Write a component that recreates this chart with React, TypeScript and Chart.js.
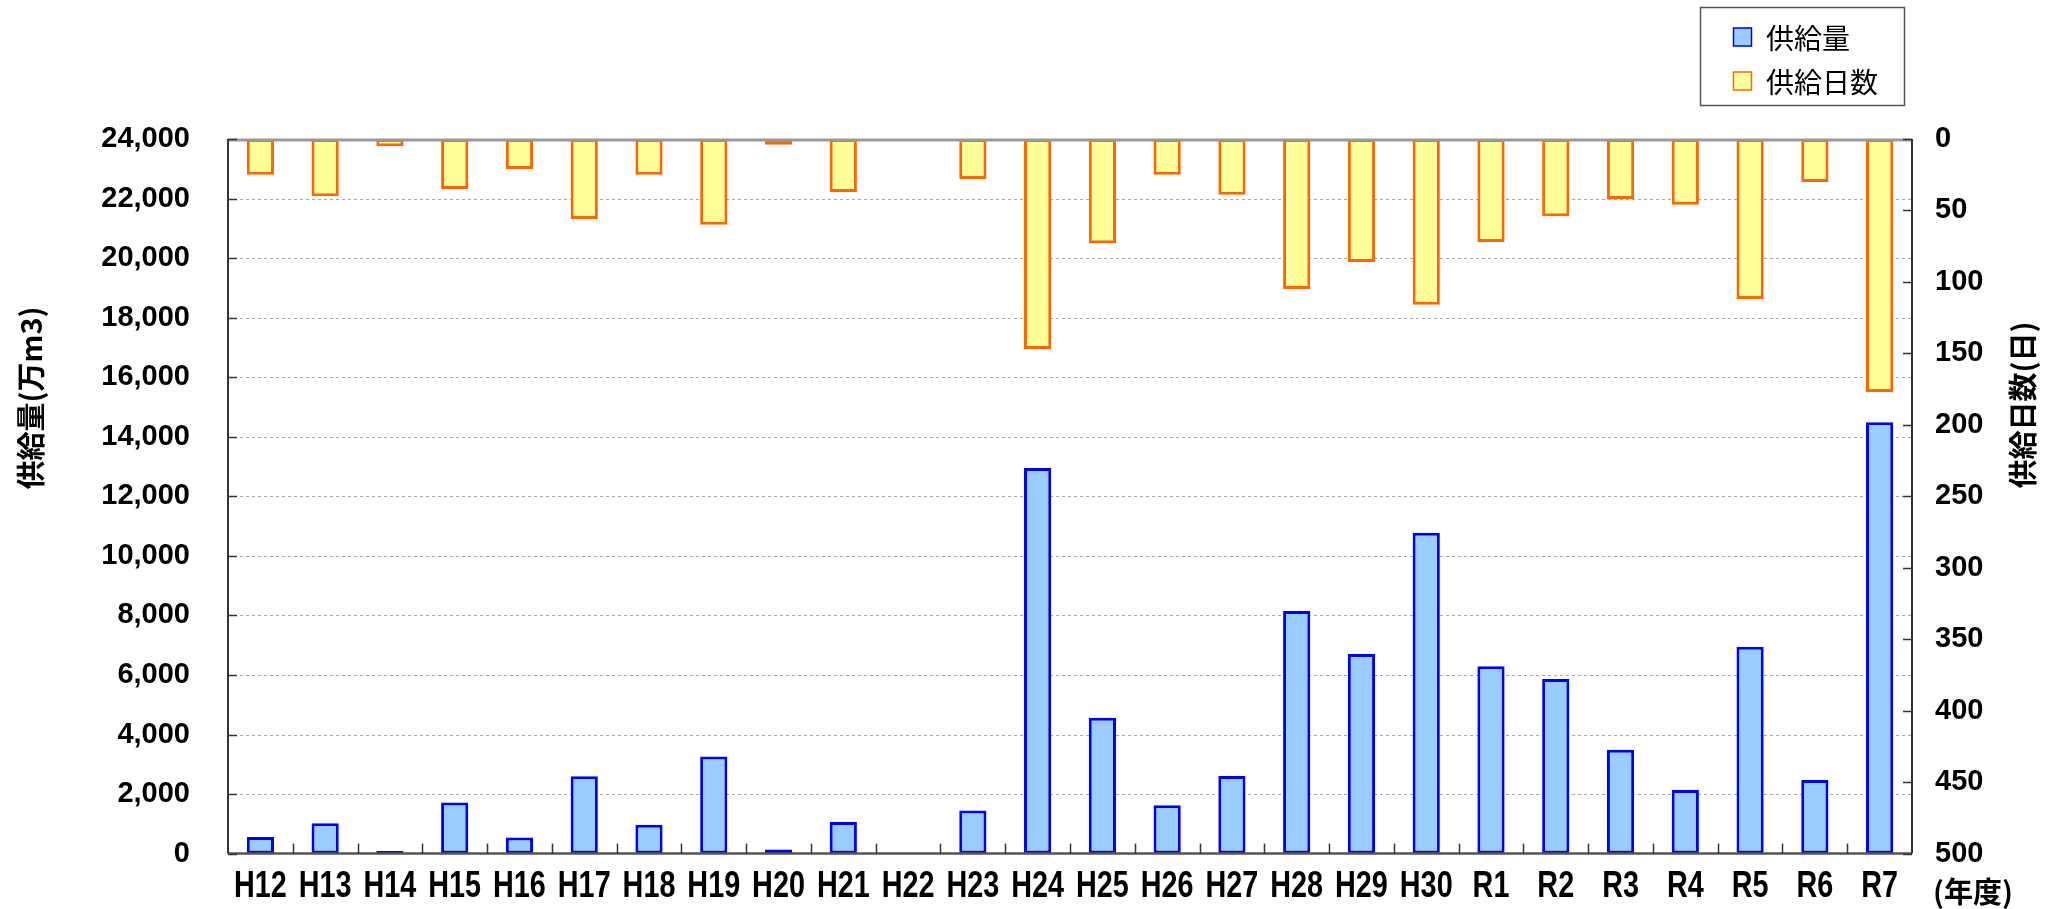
import React, { useEffect, useRef } from 'react';
import { Chart, registerables } from 'chart.js';

Chart.register(...registerables);

const categories = ['H12', 'H13', 'H14', 'H15', 'H16', 'H17', 'H18', 'H19', 'H20', 'H21', 'H22', 'H23', 'H24', 'H25', 'H26', 'H27', 'H28', 'H29', 'H30', 'R1', 'R2', 'R3', 'R4', 'R5', 'R6', 'R7'];
const supplyVolume = [560, 1020, 90, 1720, 540, 2600, 970, 3260, 140, 1060, 0, 1450, 12950, 4560, 1620, 2610, 8150, 6700, 10780, 6290, 5860, 3490, 2140, 6950, 2470, 14490];
const supplyDays = [25, 40, 5, 35, 21, 56, 25, 60, 4, 37, 0, 28, 147, 73, 25, 39, 105, 86, 116, 72, 54, 42, 46, 112, 30, 177];

const seriesLabels = ['供給量', '供給日数'];
const leftTitle = '供給量(万m3)';
const rightTitle = '供給日数(日)';
const xUnit = '(年度)';

const LEFT_MAX = 24000;
const LEFT_STEP = 2000;
const RIGHT_MAX = 500;
const RIGHT_STEP = 50;

const SANS = "'Liberation Sans', Arial, sans-serif";
const CJK = "'Noto Sans CJK JP', 'Noto Sans CJK SC', sans-serif";

const decor = {
  id: 'decor',
  beforeDatasetsDraw(chart: any) {
    const { ctx, chartArea: a, scales } = chart;
    const y = scales.y;
    ctx.save();
    ctx.strokeStyle = '#a8a8a8';
    ctx.lineWidth = 1;
    ctx.setLineDash([3, 3]);
    y.ticks.forEach((t: any) => {
      if (t.value === 0 || t.value === LEFT_MAX) return;
      const py = Math.round(y.getPixelForValue(t.value)) + 0.5;
      ctx.beginPath();
      ctx.moveTo(a.left, py);
      ctx.lineTo(a.right, py);
      ctx.stroke();
    });
    ctx.restore();
  },
  afterDatasetsDraw(chart: any) {
    const { ctx, chartArea: a, scales } = chart;
    const y = scales.y;
    const y2 = scales.y2;
    const x = scales.x;
    ctx.save();
    ctx.setLineDash([]);
    ctx.strokeStyle = '#999999';
    ctx.lineWidth = 3;
    ctx.beginPath();
    ctx.moveTo(a.left, a.top + 1);
    ctx.lineTo(a.right, a.top + 1);
    ctx.stroke();
    ctx.strokeStyle = '#555555';
    ctx.lineWidth = 2.5;
    ctx.beginPath();
    ctx.moveTo(a.left, a.bottom);
    ctx.lineTo(a.right, a.bottom);
    ctx.stroke();
    ctx.strokeStyle = '#333333';
    ctx.lineWidth = 2;
    ctx.beginPath();
    ctx.moveTo(a.left, a.top);
    ctx.lineTo(a.left, a.bottom);
    ctx.moveTo(a.right, a.top);
    ctx.lineTo(a.right, a.bottom);
    ctx.stroke();
    ctx.lineWidth = 1.5;
    y.ticks.forEach((t: any) => {
      const py = Math.round(y.getPixelForValue(t.value)) + 0.5;
      ctx.beginPath();
      ctx.moveTo(a.left, py);
      ctx.lineTo(a.left + 9, py);
      ctx.stroke();
    });
    y2.ticks.forEach((t: any) => {
      const py = Math.round(y2.getPixelForValue(t.value)) + 0.5;
      ctx.beginPath();
      ctx.moveTo(a.right - 9, py);
      ctx.lineTo(a.right, py);
      ctx.stroke();
    });
    const n = chart.data.labels.length;
    for (let i = 1; i < n; i++) {
      const px = Math.round((x.getPixelForValue(i - 1) + x.getPixelForValue(i)) / 2) + 0.5;
      ctx.beginPath();
      ctx.moveTo(px, a.bottom);
      ctx.lineTo(px, a.bottom - 10);
      ctx.stroke();
    }
    ctx.restore();
  },
  afterDraw(chart: any) {
    const { ctx, chartArea: a, scales } = chart;
    const x = scales.x;
    ctx.save();
    ctx.fillStyle = '#000';
    // x category labels (condensed bold)
    ctx.font = `bold 36px ${SANS}`;
    ctx.textAlign = 'center';
    ctx.textBaseline = 'alphabetic';
    const sx = 0.8;
    chart.data.labels.forEach((lab: string, i: number) => {
      const px = x.getPixelForValue(i);
      ctx.save();
      ctx.scale(sx, 1);
      ctx.fillText(lab, px / sx, 897);
      ctx.restore();
    });
    // left title
    ctx.font = `bold 29px ${CJK}`;
    ctx.textAlign = 'center';
    ctx.textBaseline = 'middle';
    ctx.save();
    ctx.translate(31, 398);
    ctx.rotate(-Math.PI / 2);
    ctx.fillText(leftTitle, 0, 0);
    ctx.restore();
    // right title
    ctx.save();
    ctx.translate(2023, 405);
    ctx.rotate(-Math.PI / 2);
    ctx.fillText(rightTitle, 0, 0);
    ctx.restore();
    // x unit
    ctx.font = `bold 29px ${CJK}`;
    ctx.textAlign = 'left';
    ctx.fillText(xUnit, 1933, 892);
    // legend
    const lx = 1700, ly = 7, lw = 204, lh = 98;
    ctx.strokeStyle = '#555555';
    ctx.lineWidth = 1.5;
    ctx.strokeRect(lx + 0.5, ly + 0.5, lw, lh);
    const rows = [37, 81];
    chart.data.datasets.forEach((ds: any, i: number) => {
      const cy = rows[i];
      ctx.fillStyle = ds.backgroundColor;
      ctx.fillRect(1733, cy - 9.5, 19, 19);
      ctx.strokeStyle = ds.borderColor;
      ctx.lineWidth = 1.5;
      ctx.strokeRect(1733.5, cy - 9, 18, 18);
      ctx.fillStyle = '#000';
      ctx.font = `28px ${CJK}`;
      ctx.textAlign = 'left';
      ctx.textBaseline = 'middle';
      ctx.fillText(ds.label, 1766, cy + 1);
    });
    ctx.restore();
  },
};

export default function App() {
  const ref = useRef<HTMLCanvasElement | null>(null);
  useEffect(() => {
    if (!ref.current) return;
    Chart.defaults.color = '#000';
    const chart = new Chart(ref.current, {
      type: 'bar',
      data: {
        labels: categories,
        datasets: [
          {
            label: seriesLabels[0],
            data: supplyVolume,
            yAxisID: 'y',
            backgroundColor: '#99CCFF',
            borderColor: '#0000FF',
            borderWidth: 3,
            borderSkipped: false,
            grouped: false,
            barPercentage: 0.42,
            categoryPercentage: 1,
          } as any,
          {
            label: seriesLabels[1],
            data: supplyDays,
            yAxisID: 'y2',
            backgroundColor: '#FFFF99',
            borderColor: '#FF6600',
            borderWidth: 3,
            borderSkipped: false,
            grouped: false,
            barPercentage: 0.42,
            categoryPercentage: 1,
          } as any,
        ],
      },
      options: {
        animation: false,
        responsive: true,
        maintainAspectRatio: false,
        layout: { padding: { top: 139, left: 0, right: 0, bottom: 0 } },
        plugins: {
          legend: { display: false },
          tooltip: { enabled: false },
        },
        scales: {
          x: {
            offset: true,
            grid: { display: false, drawTicks: false },
            border: { display: false },
            ticks: { display: false, autoSkip: false, maxRotation: 0 },
            afterFit(scale: any) {
              scale.height = 53;
            },
          },
          y: {
            position: 'left',
            min: 0,
            max: LEFT_MAX,
            grid: { display: false, drawTicks: false },
            border: { display: false },
            ticks: {
              stepSize: LEFT_STEP,
              padding: 38,
              color: '#000',
              font: { family: SANS, size: 29, weight: 'bold' },
              callback: (v: any) => Number(v).toLocaleString('en-US'),
            },
            afterFit(scale: any) {
              scale.width = 228;
            },
          },
          y2: {
            position: 'right',
            min: 0,
            max: RIGHT_MAX,
            reverse: true,
            grid: { display: false, drawTicks: false },
            border: { display: false },
            ticks: {
              stepSize: RIGHT_STEP,
              padding: 23,
              color: '#000',
              font: { family: SANS, size: 29, weight: 'bold' },
            },
            afterFit(scale: any) {
              scale.width = 148;
            },
          },
        },
      } as any,
      plugins: [decor],
    });
    return () => chart.destroy();
  }, []);
  return (
    <div style={{ position: 'fixed', left: 0, top: 0, width: 2060, height: 909, background: '#fff' }}>
      <canvas ref={ref} />
    </div>
  );
}
